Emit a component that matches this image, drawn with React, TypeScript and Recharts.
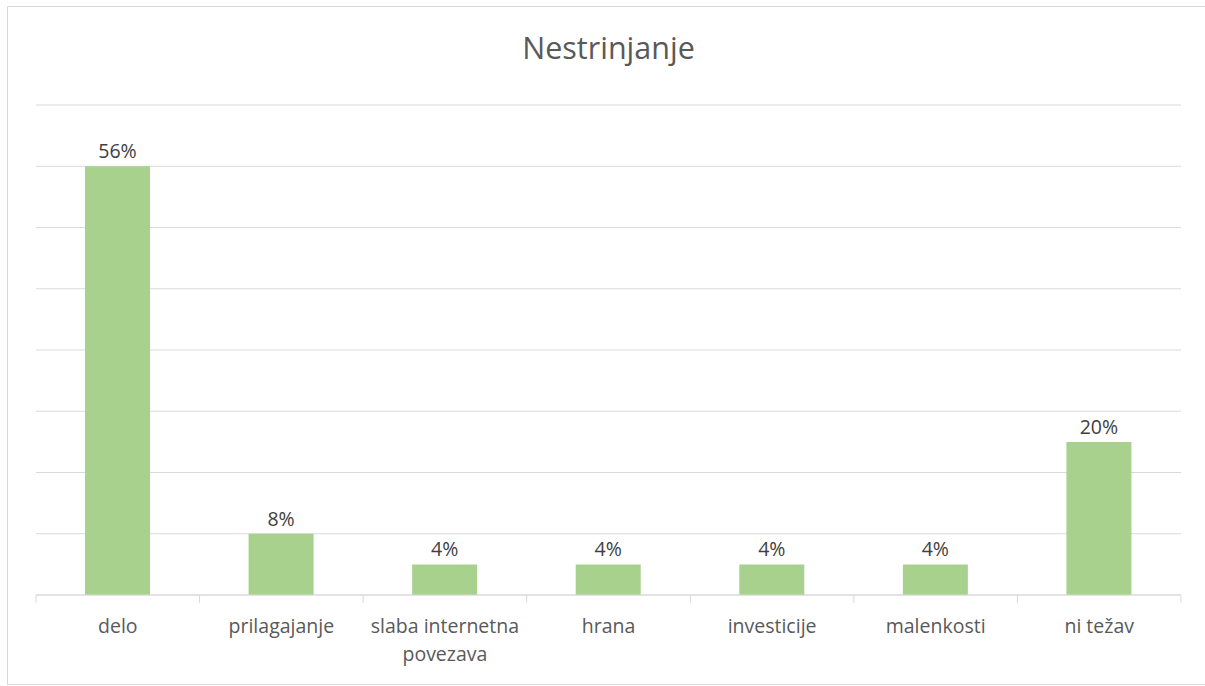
import React from 'react';
import { BarChart, Bar, XAxis, YAxis, CartesianGrid, LabelList } from 'recharts';

const categories = ['delo', 'prilagajanje', 'slaba internetna povezava', 'hrana', 'investicije', 'malenkosti', 'ni težav'];
const values = [56, 8, 4, 4, 4, 4, 20];
const yTicks = [0, 8, 16, 24, 32, 40, 48, 56, 64];
const title = 'Nestrinjanje';

const data = categories.map((c, i) => ({ name: c, value: values[i] }));

const W = 1205;
const H = 686;
const M = { top: 105, right: 24, bottom: 0, left: 36 };
const AXIS_H = 91;
const BAND = (W - M.left - M.right) / categories.length;
const FONT = '"Open Sans", sans-serif';
const TXT = '#595959';

const CatTick = (props: any) => {
  const { x, y, payload, index } = props;
  const words: string[] = String(payload.value).split(' ');
  let lines: string[] = [String(payload.value)];
  if (String(payload.value).length > 14 && words.length > 1) {
    lines = [words.slice(0, 2).join(' '), words.slice(2).join(' ')];
  }
  const axisY = y - 8;
  const left = x - BAND / 2;
  const right = x + BAND / 2;
  return (
    <g>
      <line x1={left} x2={left} y1={axisY} y2={axisY + 8} stroke="#d9d9d9" strokeWidth={1} />
      {index === categories.length - 1 && (
        <line x1={right} x2={right} y1={axisY} y2={axisY + 8} stroke="#d9d9d9" strokeWidth={1} />
      )}
      {lines.map((l, i) => (
        <text key={i} x={x} y={axisY + 38 + i * 28} textAnchor="middle" fill={TXT} fontSize={19.5} fontFamily={FONT}>
          {l}
        </text>
      ))}
    </g>
  );
};

export default function App() {
  return (
    <div style={{ position: 'absolute', left: 0, top: 0, width: W, height: H, background: '#fff', overflow: 'hidden' }}>
      <div style={{ position: 'absolute', left: 7, top: 6, width: W, height: 679, border: '1px solid #d9d9d9', boxSizing: 'border-box' }} />
      <div style={{ position: 'absolute', left: 0, top: 28, width: 1217, textAlign: 'center', fontFamily: FONT, fontSize: 30.5, lineHeight: '38px', color: TXT }}>
        {title}
      </div>
      <div style={{ position: 'absolute', left: 0, top: 0 }}>
        <BarChart width={W} height={H} data={data} margin={M} barSize={65}>
          <CartesianGrid vertical={false} stroke="#d9d9d9" strokeWidth={1} />
          <YAxis hide domain={[0, 64]} ticks={yTicks} />
          <XAxis
            dataKey="name"
            interval={0}
            tickLine={false}
            axisLine={{ stroke: '#d9d9d9' }}
            tick={<CatTick />}
            height={AXIS_H}
          />
          <Bar dataKey="value" fill="#A9D18E" isAnimationActive={false}>
            <LabelList
              dataKey="value"
              position="top"
              offset={8}
              formatter={(v: any) => `${v}%`}
              fill="#404040"
              fontSize={19.5}
              fontFamily={FONT}
            />
          </Bar>
        </BarChart>
      </div>
    </div>
  );
}
